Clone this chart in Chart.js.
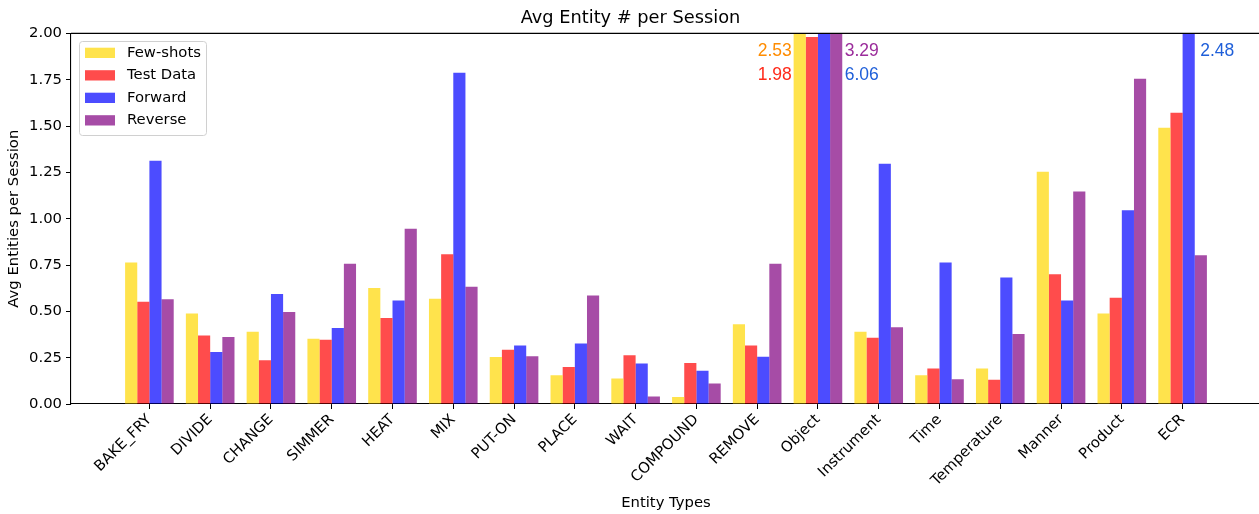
<!DOCTYPE html>
<html>
<head>
<meta charset="utf-8">
<script src="https://cdn.jsdelivr.net/npm/chart.js@4.4.1/dist/chart.umd.min.js"></script>
<style>
  html, body { margin: 0; padding: 0; background: #fff; overflow: hidden; }
  #wrap { width: 1263px; height: 514px; }
</style>
</head>
<body>
<div id="wrap"><canvas id="EntityChart" width="1263" height="514"></canvas></div>
<script>
//================================================================================================Data
var categories = ['BAKE_FRY', 'DIVIDE', 'CHANGE', 'SIMMER', 'HEAT', 'MIX', 'PUT-ON', 'PLACE', 'WAIT',
    'COMPOUND', 'REMOVE', 'Object', 'Instrument', 'Time', 'Temperature', 'Manner', 'Product', 'ECR'];

var fewShots = [0.764, 0.489, 0.390, 0.352, 0.626, 0.568, 0.254, 0.155, 0.137, 0.038, 0.430, 2.53, 0.390, 0.155, 0.192, 1.253, 0.489, 1.490];
var testData = [0.552, 0.370, 0.236, 0.347, 0.464, 0.808, 0.293, 0.200, 0.263, 0.221, 0.315, 1.98, 0.358, 0.191, 0.131, 0.700, 0.574, 1.571];
var forward  = [1.312, 0.281, 0.594, 0.410, 0.559, 1.787, 0.315, 0.327, 0.219, 0.180, 0.255, 6.06, 1.296, 0.764, 0.683, 0.558, 1.045, 2.480];
var reverse  = [0.565, 0.361, 0.496, 0.757, 0.946, 0.633, 0.257, 0.585, 0.040, 0.110, 0.757, 3.29, 0.414, 0.133, 0.378, 1.147, 1.755, 0.802];

var seriesNames = ['Few-shots', 'Test Data', 'Forward', 'Reverse'];
var yTicks = [0, 0.25, 0.5, 0.75, 1.0, 1.25, 1.5, 1.75, 2.0];

// values that run off the top get written next to their group
// [category, series index]
var overflowNotes = [
    ['Object', 0],
    ['Object', 1],
    ['Object', 3],
    ['Object', 2],
    ['ECR', 2]
];

//================================================================================================Styles
var barColors = ['rgba(255, 215, 0, 0.7)', 'rgba(255, 0, 0, 0.7)', 'rgba(0, 0, 255, 0.7)', 'rgba(128, 0, 128, 0.7)'];
var noteColors = ['#ff8c00', '#ff2a1a', '#1f5fd9', '#9b2c9b'];
// where each note goes: x offset from group centre (category units), row, text align
var noteLayout = [
    { dx: -0.43, row: 0, align: 'right' },
    { dx: -0.43, row: 1, align: 'right' },
    { dx: 0.44, row: 0, align: 'left' },
    { dx: 0.44, row: 1, align: 'left' },
    { dx: 0.29, row: 0, align: 'left' }
];
var noteRows = [1.906, 1.777];

Chart.defaults.font.family = 'DejaVu Sans';
Chart.defaults.color = '#000';

function toPoints(arr) {
    return arr.map(function(v, i) {
        return { x: i, y: v };
    });
}

var allSeries = [fewShots, testData, forward, reverse];
var datasets = allSeries.map(function(s, i) {
    return {
        label: seriesNames[i],
        data: toPoints(s),
        backgroundColor: barColors[i],
        borderWidth: 0,
        categoryPercentage: 0.8,
        barPercentage: 1.0
    };
});

//================================================================================================Plugins
// top + right spine
var frameLines = {
    id: 'frameLines',
    afterDatasetsDraw: function(chart) {
        var a = chart.chartArea;
        var ctx = chart.ctx;
        ctx.save();
        ctx.strokeStyle = '#000';
        ctx.lineWidth = 1.1;
        ctx.beginPath();
        ctx.moveTo(a.left, a.top);
        ctx.lineTo(a.right, a.top);
        ctx.lineTo(a.right, a.bottom);
        ctx.stroke();
        ctx.restore();
    }
};

// labels for bars above the y limit
var overflowText = {
    id: 'overflowText',
    afterDatasetsDraw: function(chart) {
        var ctx = chart.ctx;
        var xs = chart.scales.x;
        var ys = chart.scales.y;
        ctx.save();
        ctx.font = '17.5px "Liberation Sans", Arial, sans-serif';
        ctx.textBaseline = 'middle';
        overflowNotes.forEach(function(n, k) {
            var ci = categories.indexOf(n[0]);
            var si = n[1];
            var lay = noteLayout[k];
            ctx.fillStyle = noteColors[si];
            ctx.textAlign = lay.align;
            ctx.fillText(allSeries[si][ci].toFixed(2), xs.getPixelForValue(ci + lay.dx), ys.getPixelForValue(noteRows[lay.row]));
        });
        ctx.restore();
    }
};

// matplotlib style legend box, upper left
var boxLegend = {
    id: 'boxLegend',
    afterDraw: function(chart) {
        var ctx = chart.ctx;
        var a = chart.chartArea;
        var x0 = a.left + 8, y0 = 41, w = 127, h = 94;
        ctx.save();
        ctx.fillStyle = 'rgba(255,255,255,0.8)';
        ctx.strokeStyle = '#d0d0d0';
        ctx.lineWidth = 1;
        ctx.beginPath();
        ctx.roundRect(x0 + 0.5, y0 + 0.5, w, h, 3);
        ctx.fill();
        ctx.stroke();
        ctx.font = '14.8px "DejaVu Sans"';
        ctx.textBaseline = 'middle';
        ctx.textAlign = 'left';
        chart.data.datasets.forEach(function(ds, i) {
            var cy = 52.7 + i * 22.5;
            ctx.fillStyle = ds.backgroundColor;
            ctx.fillRect(x0 + 6, cy - 5, 30, 10.3);
            ctx.fillStyle = '#000';
            ctx.fillText(ds.label, x0 + 48, cy);
        });
        ctx.restore();
    }
};

//================================================================================================Chart
var ctx1 = document.getElementById('EntityChart');
var entityChart = new Chart(ctx1, {
    type: 'bar',
    data: { datasets: datasets },
    options: {
        responsive: false,
        animation: false,
        devicePixelRatio: 1,
        layout: { padding: { left: 0, right: 2, top: 0, bottom: 0 } },
        plugins: {
            legend: { display: false },
            tooltip: { enabled: false },
            title: {
                display: true,
                text: 'Avg Entity # per Session',
                font: { size: 17.8, weight: 'normal' },
                color: '#000',
                padding: { top: 8, bottom: 4 }
            }
        },
        scales: {
            x: {
                type: 'linear',
                min: -1.29,
                max: 18.29,
                offset: false,
                afterBuildTicks: function(scale) {
                    scale.ticks = categories.map(function(c, i) {
                        return { value: i };
                    });
                },
                afterFit: function(scale) {
                    scale.height = 110;
                },
                ticks: {
                    autoSkip: false,
                    minRotation: 45,
                    maxRotation: 45,
                    padding: 2,
                    font: { size: 14.8 },
                    color: '#000',
                    callback: function(v) {
                        return categories[v];
                    }
                },
                grid: { offset: false, drawOnChartArea: false, drawTicks: true, tickLength: 5, color: '#000', lineWidth: 1 },
                border: { display: true, color: '#000', width: 1.1 },
                title: {
                    display: true,
                    text: 'Entity Types',
                    font: { size: 14.8 },
                    color: '#000',
                    padding: { top: 0, bottom: 2 }
                }
            },
            y: {
                min: 0,
                max: 2,
                afterBuildTicks: function(scale) {
                    scale.ticks = yTicks.map(function(v) {
                        return { value: v };
                    });
                },
                afterFit: function(scale) {
                    scale.width = 71;
                },
                ticks: {
                    padding: 4,
                    font: { size: 14.8 },
                    color: '#000',
                    callback: function(v) {
                        return v.toFixed(2);
                    }
                },
                grid: { drawOnChartArea: false, drawTicks: true, tickLength: 5, color: '#000', lineWidth: 1 },
                border: { display: true, color: '#000', width: 1.1 },
                title: {
                    display: true,
                    text: 'Avg Entities per Session',
                    font: { size: 14.8 },
                    color: '#000',
                    padding: { top: 5, bottom: 0 }
                }
            }
        }
    },
    plugins: [frameLines, overflowText, boxLegend]
});
</script>
</body>
</html>
